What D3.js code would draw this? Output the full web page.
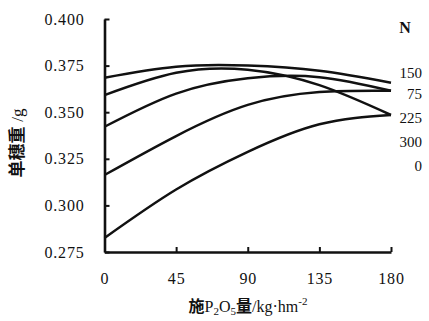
<!DOCTYPE html>
<html><head><meta charset="utf-8">
<script src="https://cdn.jsdelivr.net/npm/d3@7/dist/d3.min.js"></script>
<style>
body{margin:0;background:#fff;}
svg{display:block;}
text{font-family:"Liberation Serif","Times New Roman",serif;fill:#111;}
</style></head>
<body><svg id="c" width="429" height="321"></svg>
<script>
// Data
const pLevels = [0, 45, 90, 135, 180];            // P2O5 applied, kg/hm^2
const seriesN = ["150", "75", "225", "300", "0"];  // N levels (legend order)
const n150 = [0.3685, 0.3744, 0.3750, 0.3722, 0.3658];
const n75  = [0.3592, 0.3712, 0.3728, 0.3645, 0.3485];
const n225 = [0.3422, 0.3600, 0.3682, 0.3688, 0.3615];
const n300 = [0.3163, 0.3372, 0.3539, 0.3608, 0.3615];
const n0   = [0.2825, 0.3085, 0.3287, 0.3435, 0.3485];
const yTicks = [0.275, 0.300, 0.325, 0.350, 0.375, 0.400];
const xTicks = [0, 45, 90, 135, 180];

const svg = d3.select("#c");
const x = d3.scaleLinear().domain([0, 180]).range([104.5, 391]);
const y = d3.scaleLinear().domain([0.275, 0.400]).range([252, 19]);

// Axes
const ax = svg.append("g").attr("transform", `translate(0,${y(0.275)})`)
  .call(d3.axisBottom(x).tickValues(xTicks).tickSizeInner(-5).tickSizeOuter(0).tickPadding(21).tickFormat(d3.format("d")));
const ay = svg.append("g").attr("transform", `translate(${x(0)},0)`)
  .call(d3.axisLeft(y).tickValues(yTicks).tickSizeInner(-5).tickSizeOuter(0).tickPadding(20).tickFormat(d3.format(".3f")));
[ax, ay].forEach(g => {
  g.select(".domain").attr("stroke", "#111").attr("stroke-width", 2.6);
  g.selectAll(".tick line").attr("stroke", "#111").attr("stroke-width", 2);
  g.selectAll(".tick text").attr("font-size", 16).attr("font-family", "Liberation Serif, serif")
    .attr("letter-spacing", 0.8).attr("fill", "#111");
});

// Curves
const all = [n150, n75, n225, n300, n0];
const line = d3.line().x((d, i) => x(pLevels[i])).y(d => y(d)).curve(d3.curveNatural);
svg.append("g").selectAll("path").data(all).join("path")
  .attr("d", line).attr("fill", "none").attr("stroke", "#111")
  .attr("stroke-width", 2.5).attr("stroke-linejoin", "round");

// Legend
svg.append("text").attr("x", 405).attr("y", 33).attr("text-anchor", "middle")
  .attr("font-size", 16).attr("font-weight", "bold").text("N");
const legY = [73, 94, 118, 142, 166];
svg.append("g").selectAll("text").data(seriesN).join("text")
  .attr("x", 422).attr("y", (d, i) => legY[i]).attr("dy", "0.35em")
  .attr("text-anchor", "end").attr("font-size", 15).text(d => d);

// Y title
const yt = svg.append("text").attr("transform", "translate(23,143) rotate(-90)")
  .attr("text-anchor", "middle").attr("font-size", 17);
yt.append("tspan").attr("font-family", "Noto Sans CJK SC").attr("font-weight", "bold").text("单穗重");
yt.append("tspan").attr("dx", 5).text("/g");

// X title
const xt = svg.append("text").attr("x", 248).attr("y", 312).attr("text-anchor", "middle").attr("font-size", 16);
xt.append("tspan").attr("font-family", "Noto Sans CJK SC").attr("font-weight", "bold").text("施");
xt.append("tspan").text("P");
xt.append("tspan").attr("font-size", 11).attr("dy", 3).text("2");
xt.append("tspan").attr("dy", -3).text("O");
xt.append("tspan").attr("font-size", 11).attr("dy", 3).text("5");
xt.append("tspan").attr("dy", -3).attr("font-family", "Noto Sans CJK SC").attr("font-weight", "bold").text("量");
xt.append("tspan").text("/kg·hm");
xt.append("tspan").attr("font-size", 11).attr("dy", -7).text("-2");
</script></body></html>
